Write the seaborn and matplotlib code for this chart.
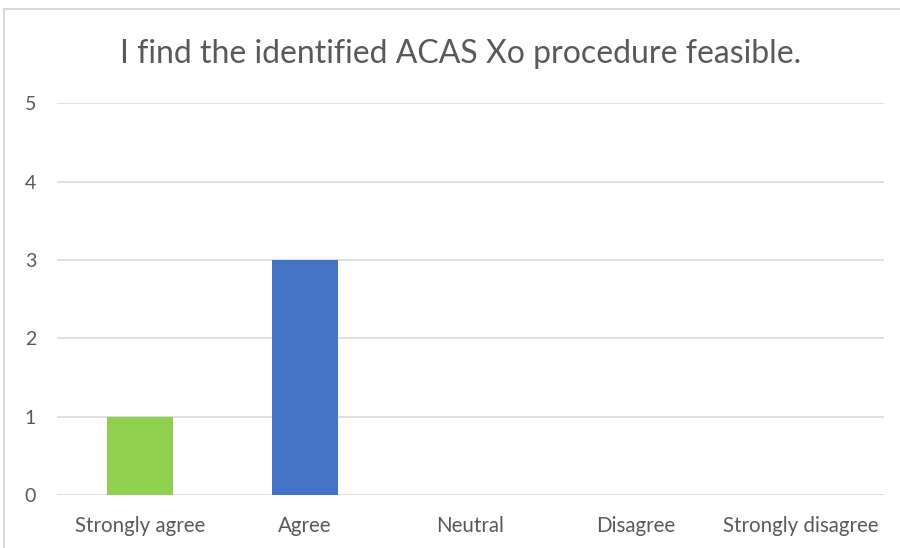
import matplotlib.pyplot as plt
import matplotlib.lines as mlines
import seaborn as sns
import pandas as pd

sns.set_theme(style="white")
plt.rcParams["font.family"] = ["Lato", "DejaVu Sans"]

# Data
answers = ["Strongly agree", "Agree", "Neutral", "Disagree", "Strongly disagree"]
counts = [1, 3, 0, 0, 0]
bar_colors = ["#92D050", "#4472C4", "#4472C4", "#4472C4", "#4472C4"]
y_ticks = [0, 1, 2, 3, 4, 5]
title = "I find the identified ACAS Xo procedure feasible."

df = pd.DataFrame({"Answer": answers, "Count": counts})

fig = plt.figure(figsize=(9, 5.48), dpi=100)
ax = fig.add_axes([0.0633, 0.0967, 0.9187, 0.715])

sns.barplot(data=df, x="Answer", y="Count", hue="Answer", palette=bar_colors,
            width=0.4, legend=False, ax=ax, saturation=1, linewidth=0)

ax.set_ylim(0, 5)
ax.set_yticks(y_ticks)
ax.yaxis.grid(True, color="#D9D9D9", linewidth=1.2)
ax.set_axisbelow(True)
for s in ax.spines.values():
    s.set_visible(False)
ax.set_xlabel("")
ax.set_ylabel("")
ax.tick_params(axis="y", length=0, pad=15, labelsize=14, labelcolor="#595959")
ax.tick_params(axis="x", length=0, pad=15, labelsize=14.8, labelcolor="#595959")

fig.text(0.512, 0.902, title, ha="center", va="center", fontsize=23, color="#595959")

# chart frame
fig.add_artist(mlines.Line2D([4 / 900, 1], [1 - 9 / 548, 1 - 9 / 548], color="#D9D9D9", linewidth=1.5))
fig.add_artist(mlines.Line2D([4 / 900, 4 / 900], [0, 1 - 9 / 548], color="#D9D9D9", linewidth=1.5))

fig.savefig("out.png", dpi=100)
